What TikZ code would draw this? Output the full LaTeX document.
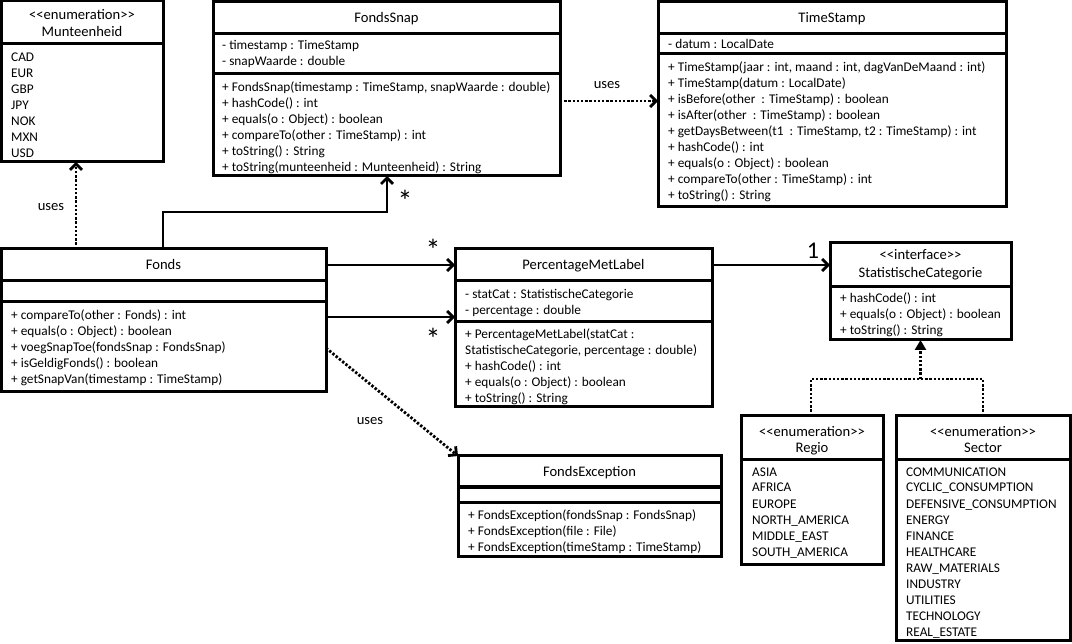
\documentclass[tikz,border=0pt]{standalone}
\usepackage{fontspec}
\setmainfont{Carlito}
\usetikzlibrary{arrows.meta,calc}
\newcommand\gl{<\kern0pt<}
\newcommand\gr{>\kern0pt>}
\begin{document}
\begin{tikzpicture}[x=1pt,y=-1pt,
  box/.style={draw, line width=3pt, rectangle, inner sep=0pt, outer sep=0pt, anchor=north west},
  sep/.style={line width=3pt},
  txt/.style={inner sep=0pt, anchor=base west, font=\fontsize{13.3}{15}\selectfont},
  ttl/.style={inner sep=0pt, anchor=base, font=\fontsize{14.6}{17}\selectfont},
  lbl/.style={inner sep=0pt, font=\fontsize{14.6}{17}\selectfont},
  mult/.style={inner sep=0pt, anchor=base, font=\fontsize{30}{32}\selectfont},
  conn/.style={line width=2.8pt, -{Straight Barb[length=6pt,width=12pt,line width=2.8pt]}},
  dep/.style={conn, dash pattern=on 2.4pt off 1.8pt},
  real/.style={line width=2.8pt, dash pattern=on 2.4pt off 1.8pt},
]
\useasboundingbox (0,0) rectangle (1072,644);

% ---------- Munteenheid ----------
\node[box, minimum width=162pt, minimum height=161pt] (mun) at (1,1) {};
\node[ttl] (mun-s) at (82,20) {\gl enumeration\gr};
\node[ttl] (mun-n) at (82,37) {Munteenheid};
\draw[sep] (mun.west |- 0,44) -- (mun.east |- 0,44);
\foreach \t [count=\i from 0] in {CAD,EUR,GBP,JPY,NOK,MXN,USD}
  \node[txt] (mun-\i) at (11,62+16*\i) {\t};

% ---------- FondsSnap ----------
\node[box, minimum width=347pt, minimum height=174pt] (fs) at (213,2) {};
\node[ttl] (fs-n) at (386.5,23) {FondsSnap};
\draw[sep] (fs.west |- 0,34) -- (fs.east |- 0,34);
\draw[sep] (fs.west |- 0,74) -- (fs.east |- 0,74);
\node[txt] (fs-a1) at (222,50) {- timestamp : TimeStamp};
\node[txt] (fs-a2) at (222,66) {- snapWaarde : double};
\foreach \t [count=\i from 0] in {%
  {+ FondsSnap(timestamp : TimeStamp, snapWaarde : double)},
  {+ hashCode() : int},
  {+ equals(o : Object) : boolean},
  {+ compareTo(other : TimeStamp) : int},
  {+ toString() : String},
  {+ toString(munteenheid : Munteenheid) : String}}
  \node[txt] (fs-m\i) at (222,92+16*\i) {\t};

% ---------- TimeStamp ----------
\node[box, minimum width=348pt, minimum height=205pt] (ts) at (658,2) {};
\node[ttl] (ts-n) at (832,23) {TimeStamp};
\draw[sep] (ts.west |- 0,34) -- (ts.east |- 0,34);
\draw[sep] (ts.west |- 0,54) -- (ts.east |- 0,54);
\node[txt] (ts-a1) at (668,49) {- datum : LocalDate};
\foreach \t [count=\i from 0] in {%
  {+ TimeStamp(jaar : int, maand : int, dagVanDeMaand : int)},
  {+ TimeStamp(datum : LocalDate)},
  {+ isBefore(other\ \ : TimeStamp) : boolean},
  {+ isAfter(other\ \ : TimeStamp) : boolean},
  {+ getDaysBetween(t1\ \ : TimeStamp, t2 : TimeStamp) : int},
  {+ hashCode() : int},
  {+ equals(o : Object) : boolean},
  {+ compareTo(other : TimeStamp) : int},
  {+ toString() : String}}
  \node[txt] (ts-m\i) at (668,72+16*\i) {\t};

% ---------- Fonds ----------
\node[box, minimum width=325pt, minimum height=143pt] (fo) at (1,249) {};
\node[ttl] (fo-n) at (163.5,270) {Fonds};
\draw[sep] (fo.west |- 0,281) -- (fo.east |- 0,281);
\draw[sep] (fo.west |- 0,302) -- (fo.east |- 0,302);
\foreach \t [count=\i from 0] in {%
  {+ compareTo(other : Fonds) : int},
  {+ equals(o : Object) : boolean},
  {+ voegSnapToe(fondsSnap : FondsSnap)},
  {+ isGeldigFonds() : boolean},
  {+ getSnapVan(timestamp : TimeStamp)}}
  \node[txt] (fo-m\i) at (11,320+16*\i) {\t};

% ---------- PercentageMetLabel ----------
\node[box, minimum width=257pt, minimum height=158pt] (pml) at (455,249) {};
\node[ttl] (pml-n) at (583.5,270) {PercentageMetLabel};
\draw[sep] (pml.west |- 0,281) -- (pml.east |- 0,281);
\draw[sep] (pml.west |- 0,322) -- (pml.east |- 0,322);
\node[txt] (pml-a1) at (465,299) {- statCat : StatistischeCategorie};
\node[txt] (pml-a2) at (465,315) {- percentage : double};
\foreach \t [count=\i from 0] in {%
  {+ PercentageMetLabel(statCat :},
  {StatistischeCategorie, percentage : double)},
  {+ hashCode() : int},
  {+ equals(o : Object) : boolean},
  {+ toString() : String}}
  \node[txt] (pml-m\i) at (465,339+16*\i) {\t};

% ---------- StatistischeCategorie ----------
\node[box, minimum width=181pt, minimum height=97pt] (sc) at (830,243) {};
\node[ttl] (sc-s) at (920.5,260) {\gl interface\gr};
\node[ttl] (sc-n) at (920.5,278) {StatistischeCategorie};
\draw[sep] (sc.west |- 0,287) -- (sc.east |- 0,287);
\foreach \t [count=\i from 0] in {%
  {+ hashCode() : int},
  {+ equals(o : Object) : boolean},
  {+ toString() : String}}
  \node[txt] (sc-m\i) at (840,303+16*\i) {\t};

% ---------- Regio ----------
\node[box, minimum width=142pt, minimum height=148pt] (re) at (741,416) {};
\node[ttl] (re-s) at (812,437) {\gl enumeration\gr};
\node[ttl] (re-n) at (812,453) {Regio};
\draw[sep] (re.west |- 0,460) -- (re.east |- 0,460);
\foreach \t [count=\i from 0] in {ASIA,AFRICA,EUROPE,NORTH\_AMERICA,MIDDLE\_EAST,SOUTH\_AMERICA}
  \node[txt] (re-\i) at (752,476+16*\i) {\t};

% ---------- Sector ----------
\node[box, minimum width=174pt, minimum height=224pt] (se) at (896,416) {};
\node[ttl] (se-s) at (983,437) {\gl enumeration\gr};
\node[ttl] (se-n) at (983,453) {Sector};
\draw[sep] (se.west |- 0,460) -- (se.east |- 0,460);
\foreach \t [count=\i from 0] in {COMMUNICATION,CYCLIC\_CONSUMPTION,DEFENSIVE\_CONSUMPTION,ENERGY,FINANCE,HEALTHCARE,RAW\_MATERIALS,INDUSTRY,UTILITIES,TECHNOLOGY,REAL\_ESTATE}
  \node[txt] (se-\i) at (906,476+16*\i) {\t};

% ---------- FondsException ----------
\node[box, minimum width=263pt, minimum height=100pt] (fe) at (458,456) {};
\node[ttl] (fe-n) at (589.5,477) {FondsException};
\draw[sep] (fe.west |- 0,487) -- (fe.east |- 0,487);
\draw[sep] (fe.west |- 0,502) -- (fe.east |- 0,502);
\foreach \t [count=\i from 0] in {%
  {+ FondsException(fondsSnap : FondsSnap)},
  {+ FondsException(file : File)},
  {+ FondsException(timeStamp : TimeStamp)}}
  \node[txt] (fe-m\i) at (468,519+16*\i) {\t};

% ---------- connectors ----------
% Fonds uses Munteenheid
\draw[dep] (fo.north -| 76,0) -- (mun.south -| 76,0);
\node[lbl] (u1) at (51,207) {uses};
% Fonds -> FondsSnap
\coordinate (b1) at (163,212);
\coordinate (b2) at (387,212);
\draw[conn] (fo.north -| b1) -- (b1) -- (b2) -- (fs.south -| b2);
\node[mult] (m1) at (405,212) {*};
% FondsSnap uses TimeStamp
\draw[dep] (fs.east |- 0,101) -- (ts.west |- 0,101);
\node[lbl] (u2) at (607,85) {uses};
% Fonds -> PercentageMetLabel (twice)
\draw[conn] (fo.east |- 0,265) -- (pml.west |- 0,265);
\node[mult] (m2) at (433,261) {*};
\draw[conn] (fo.east |- 0,317) -- (pml.west |- 0,317);
\node[mult] (m3) at (433,350) {*};
% PercentageMetLabel -> StatistischeCategorie
\draw[conn] (pml.east |- 0,265) -- (sc.west |- 0,265);
\node[inner sep=0pt, font=\fontsize{24}{26}\selectfont] (m4) at (813,251) {1};
% Fonds uses FondsException
\draw[dep] (fo.east |- 0,348) -- (fe.north west);
\node[lbl] (u3) at (370,421) {uses};
% Regio / Sector realize StatistischeCategorie
\coordinate (j) at (920.5,379);
\draw[real] (re.north -| 811,0) -- (811,379) -- (983,379) -- (se.north -| 983,0);
\draw[real, -{Triangle[length=10pt,width=11pt]}] (j) -- (sc.south -| j);
\end{tikzpicture}
\end{document}
